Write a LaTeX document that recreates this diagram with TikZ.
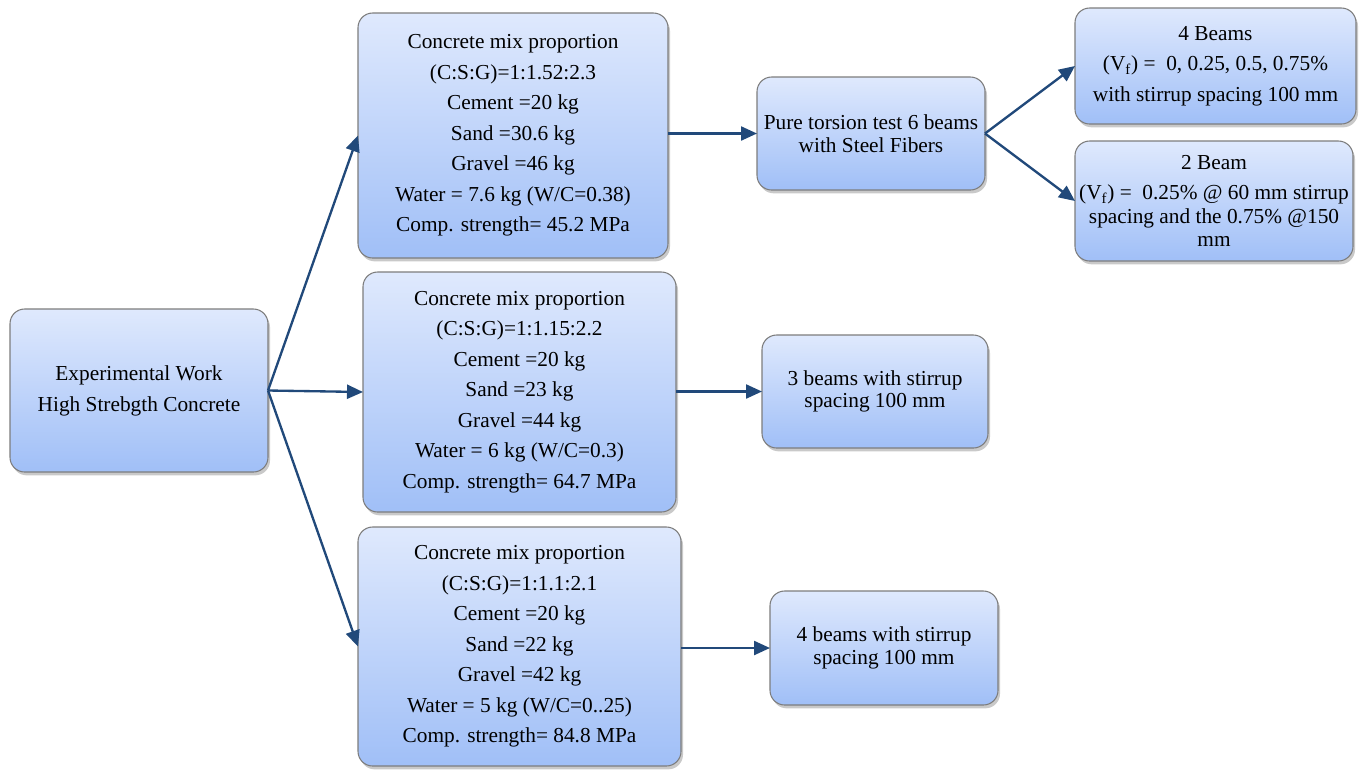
\documentclass[tikz,border=0pt]{standalone}
\usepackage{fontspec}
\setmainfont{Liberation Serif}
\usetikzlibrary{arrows.meta,shadows}
\definecolor{boxtop}{RGB}{223,233,253}
\definecolor{boxbot}{RGB}{160,191,247}
\definecolor{boxedge}{RGB}{125,125,125}
\definecolor{arrowc}{RGB}{33,73,122}
\tikzset{
  card/.style={rectangle, rounded corners=11pt, draw=boxedge, line width=0.8pt,
    top color=boxtop, bottom color=boxbot, inner sep=0pt, outer sep=0pt,
    align=center, text=black,
    drop shadow={shadow xshift=1.5pt, shadow yshift=-2.5pt, opacity=0.3, fill=black!70},
    font=\fontsize{16pt}{17pt}\selectfont},
  widecard/.style={card, font=\fontsize{16pt}{22.9pt}\selectfont},
  link/.style={draw=arrowc, line width=1.75pt, -{Triangle[length=12pt,width=10.5pt]}}
}
\begin{document}
\begin{tikzpicture}[x=0.75pt,y=-0.75pt]
\useasboundingbox (0,0) rectangle (1364,769);

\node[card, font=\fontsize{16pt}{23.25pt}\selectfont, minimum width=193.5pt, minimum height=122.25pt] (root) at (139,390.5)
  {Experimental Work\\High Strebgth Concrete};

\node[widecard, minimum width=232.5pt, minimum height=183.75pt] (m1) at (513,135.5)
  {Concrete mix proportion\\(C:S:G)=1:1.52:2.3\\Cement =20 kg\\Sand =30.6 kg\\Gravel =46 kg\\Water = 7.6 kg (W/C=0.38)\\Comp. strength= 45.2 MPa};

\node[widecard, minimum width=234.75pt, minimum height=180pt] (m2) at (519.5,392)
  {Concrete mix proportion\\(C:S:G)=1:1.15:2.2\\Cement =20 kg\\Sand =23 kg\\Gravel =44 kg\\Water = 6 kg (W/C=0.3)\\Comp. strength= 64.7 MPa};

\node[widecard, minimum width=242.25pt, minimum height=179.25pt] (m3) at (519.5,646.5)
  {Concrete mix proportion\\(C:S:G)=1:1.1:2.1\\Cement =20 kg\\Sand =22 kg\\Gravel =42 kg\\Water = 5 kg (W/C=0..25)\\Comp. strength= 84.8 MPa};

\node[card, minimum width=171pt, minimum height=84.75pt] (pure) at (871,133.5)
  {Pure torsion test 6 beams\\with Steel Fibers};

\node[widecard, minimum width=210.75pt, minimum height=87pt] (fb) at (1215.5,66)
  {4 Beams\\(V\textsubscript{f}) =\ \ 0, 0.25, 0.5, 0.75\%\\with stirrup spacing 100 mm};

\node[card, minimum width=208.5pt, minimum height=90pt] (tb) at (1214,201)
  {2 Beam\\[5.5pt](V\textsubscript{f}) =\ \ 0.25\% @ 60 mm stirrup\\[1pt]spacing and the 0.75\% @150\\mm};

\node[card, minimum width=169.5pt, minimum height=84.75pt] (b3) at (875,391.5)
  {3 beams with stirrup\\spacing 100 mm};

\node[card, minimum width=171pt, minimum height=85.5pt] (b4) at (884,648)
  {4 beams with stirrup\\spacing 100 mm};

\draw[link] (root.east) -- (m1.west);
\draw[link] (root.east) -- (m2.west);
\draw[link] (root.east) -- (m3.west);
\draw[link] (m1.east |- pure.west) -- (pure.west);
\draw[link] (pure.east) -- (fb.west);
\draw[link] (pure.east) -- (tb.west);
\draw[link] (m2.east |- b3.west) -- (b3.west);
\draw[link] (m3.east |- b4.west) -- (b4.west);
\end{tikzpicture}
\end{document}
